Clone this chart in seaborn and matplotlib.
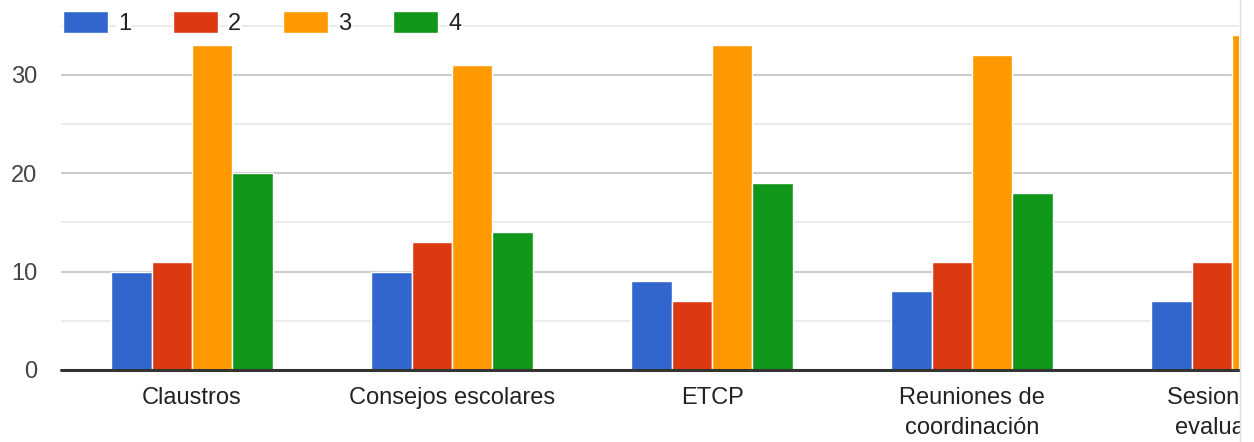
import pandas as pd
import seaborn as sns
import matplotlib.pyplot as plt
from matplotlib.ticker import MultipleLocator
from matplotlib.lines import Line2D
from matplotlib.patches import Rectangle

# Data
categorias = ["Claustros", "Consejos escolares", "ETCP",
              "Reuniones de\ncoordinación", "Sesiones de\nevaluación"]
series = ["1", "2", "3", "4"]
serie_1 = [10, 10, 9, 8, 7]
serie_2 = [11, 13, 7, 11, 11]
serie_3 = [33, 31, 33, 32, 34]
serie_4 = [20, 14, 19, 18, 15]  # last value hidden by the crop, estimated
colores = ["#3366cc", "#dc3912", "#ff9900", "#109618"]

valores = serie_1 + serie_2 + serie_3 + serie_4
df = pd.DataFrame({
    "Categoria": categorias * len(series),
    "Serie": [s for s in series for _ in categorias],
    "Valor": valores,
})

sns.set_style("white")
plt.rcParams['font.family'] = ['Liberation Sans', 'DejaVu Sans']

W, H = 1254, 442
fig = plt.figure(figsize=(W / 100, H / 100), dpi=100)
ax = fig.add_axes([61 / W, 72 / H, (1239 - 61) / W, 370 / H])

sns.barplot(data=df, x="Categoria", y="Valor", hue="Serie", palette=colores,
            saturation=1, width=0.62, edgecolor="white", linewidth=1, ax=ax)

ax.set_ylim(0, 37.6)
ax.set_xlim(-0.504, 4.027)
ax.yaxis.set_major_locator(MultipleLocator(10))
ax.yaxis.set_minor_locator(MultipleLocator(5))
ax.grid(which="major", axis="y", color="#cccccc", lw=1.5)
ax.grid(which="minor", axis="y", color="#ebebeb", lw=1.5)
ax.set_axisbelow(True)
ax.axhline(0, color="#333333", lw=2.2, clip_on=False, zorder=5)

for s in ax.spines.values():
    s.set_visible(False)
ax.set_xlabel("")
ax.set_ylabel("")
ax.tick_params(axis="y", which="both", length=0, labelsize=17, pad=17, labelcolor="#444444")
ax.tick_params(axis="x", length=0, labelsize=17, pad=12, labelcolor="#222222")
for lbl in ax.get_xticklabels():
    lbl.set_linespacing(1.5)

# legend on top, like google forms
handles, labels = ax.get_legend_handles_labels()
leg = ax.legend(handles, labels, loc="upper left", bbox_to_anchor=(63 / W, 1 - 11 / H),
                bbox_transform=fig.transFigure, ncol=4, frameon=False, fontsize=17,
                handlelength=1.9, handleheight=1.05, handletextpad=0.42,
                columnspacing=1.79, borderpad=0, borderaxespad=0)
for t in leg.get_texts():
    t.set_color("#222222")
    t.set_bbox(dict(facecolor="white", edgecolor="none", pad=1))

# the screenshot is cropped on the right
fig.add_artist(Rectangle((1240 / W, 0), 14 / W, 1, transform=fig.transFigure,
                         facecolor="white", edgecolor="none", zorder=20))
fig.add_artist(Line2D([1239.5 / W, 1239.5 / W], [0, 1], color="#dddddd", lw=1, zorder=21))

fig.savefig("out.png", dpi=100)
